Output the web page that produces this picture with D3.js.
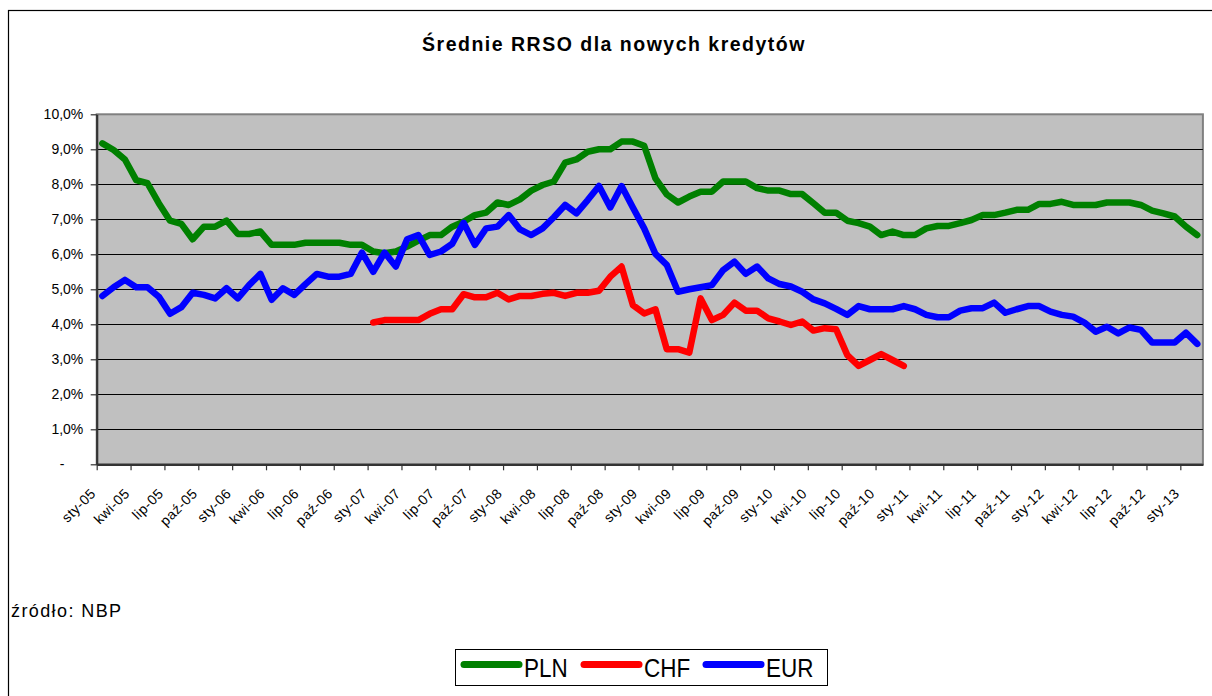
<!DOCTYPE html>
<html>
  <head>
    <meta charset="utf-8">
    <title>Średnie RRSO dla nowych kredytów</title>
    <style>
      body {
        margin: 0;
        background: #fff;
        font-family: 'Liberation Sans', Arial, sans-serif;
      }
      svg {
        display: block;
        overflow: hidden;
      }
      svg text {
        fill: #000;
      }
      .title {
        font-size: 19.5px;
        font-weight: bold;
        letter-spacing: 1.5px;
      }
      .tick text {
        font-size: 14px;
      }
      .x-axis .tick text {
        letter-spacing: 0.5px;
      }
      .source {
        font-size: 18px;
        letter-spacing: 1.4px;
      }
      .legend text {
        font-size: 22.5px;
      }
    </style>
  </head>
  <body>
    <svg width="1212" height="696"></svg>
    <script src="https://d3js.org/d3.v7.min.js"></script>
    <script>
      // months Jan 2005 .. Feb 2013
      const monthNames = ['sty', 'lut', 'mar', 'kwi', 'maj', 'cze', 'lip', 'sie', 'wrz', 'paź', 'lis', 'gru'];
      const firstYear = 2005;
      const monthCount = 98;
      const tickEvery = 3;

      const plnValues = [
        9.17, 8.98, 8.71, 8.12, 8.03, 7.46, 6.96, 6.87, 6.43, 6.79, 6.79, 6.96,
        6.58, 6.58, 6.65, 6.27, 6.27, 6.27, 6.33, 6.33, 6.33, 6.33, 6.27, 6.27,
        6.08, 6.03, 6.08, 6.22, 6.39, 6.55, 6.55, 6.79, 6.93, 7.12, 7.19, 7.48,
        7.41, 7.57, 7.82, 7.98, 8.08, 8.62, 8.71, 8.93, 9.00, 9.00, 9.22, 9.22,
        9.10, 8.17, 7.71, 7.48, 7.65, 7.79, 7.79, 8.08, 8.08, 8.08, 7.89, 7.82,
        7.82, 7.72, 7.72, 7.46, 7.19, 7.19, 6.96, 6.89, 6.79, 6.55, 6.65, 6.55,
        6.55, 6.74, 6.81, 6.81, 6.89, 6.98, 7.12, 7.12, 7.19, 7.27, 7.27, 7.44,
        7.44, 7.50, 7.41, 7.41, 7.41, 7.48, 7.48, 7.48, 7.41, 7.25, 7.17, 7.08,
        6.79, 6.55
      ];
      const eurValues = [
        4.81, 5.06, 5.27, 5.06, 5.06, 4.79, 4.30, 4.49, 4.90, 4.84, 4.74, 5.03,
        4.74, 5.12, 5.44, 4.70, 5.03, 4.84, 5.15, 5.44, 5.36, 5.36, 5.44, 6.05,
        5.50, 6.05, 5.65, 6.43, 6.55, 5.98, 6.08, 6.30, 6.90, 6.27, 6.74, 6.79,
        7.12, 6.71, 6.55, 6.74, 7.06, 7.41, 7.17, 7.55, 7.95, 7.34, 7.95, 7.34,
        6.74, 6.01, 5.70, 4.93, 5.00, 5.06, 5.12, 5.55, 5.79, 5.44, 5.65, 5.31,
        5.15, 5.08, 4.93, 4.71, 4.60, 4.44, 4.27, 4.52, 4.43, 4.43, 4.43, 4.52,
        4.43, 4.27, 4.20, 4.20, 4.39, 4.46, 4.46, 4.62, 4.33, 4.43, 4.52, 4.52,
        4.36, 4.27, 4.22, 4.05, 3.79, 3.93, 3.74, 3.91, 3.84, 3.48, 3.48, 3.48,
        3.76, 3.44
      ];
      // CHF only from Jan 2007 (index 24) to Dec 2010
      const chfStart = 24;
      const chfValues = [
        4.05, 4.12, 4.12, 4.12, 4.12, 4.30, 4.43, 4.43, 4.86, 4.77, 4.77, 4.90,
        4.71, 4.81, 4.81, 4.87, 4.90, 4.81, 4.90, 4.90, 4.96, 5.36, 5.65, 4.55,
        4.31, 4.43, 3.29, 3.29, 3.19, 4.74, 4.12, 4.27, 4.62, 4.39, 4.39, 4.17,
        4.08, 3.98, 4.08, 3.82, 3.89, 3.86, 3.12, 2.81, 2.98, 3.15, 2.98, 2.81
      ];

      const yTicks = [0, 1, 2, 3, 4, 5, 6, 7, 8, 9, 10];
      const seriesNames = ['PLN', 'CHF', 'EUR'];
      const seriesColors = ['#008000', '#ff0000', '#0000ff'];

      const months = d3.range(monthCount).map(i =>
        monthNames[i % 12] + '-' + String((firstYear + Math.floor(i / 12)) % 100).padStart(2, '0'));

      const chfFull = d3.range(monthCount).map(i => {
        const v = chfValues[i - chfStart];
        return v === undefined ? null : v;
      });
      const series = [plnValues, chfFull, eurValues];

      const svg = d3.select('svg');

      const plot = {left: 96.7, right: 1202.9, top: 114.3, bottom: 464.3};

      // category edges: point i sits in the middle of [i, i+1]
      const x = d3.scaleLinear().domain([0, monthCount]).range([plot.left, plot.right]);
      const y = d3.scaleLinear().domain([0, 10]).range([plot.bottom, plot.top]);

      const pl = d3.formatLocale({decimal: ',', thousands: ' ', grouping: [3], currency: ['', ' zł']});
      const pct = pl.format('.1f');

      // outer frame (right and bottom edges fall outside the picture)
      svg.append('rect')
        .attr('x', 8.5).attr('y', 10.5)
        .attr('width', 1230).attr('height', 720)
        .attr('fill', 'none')
        .attr('stroke', '#000')
        .attr('stroke-width', 1.2);

      svg.append('text')
        .attr('class', 'title')
        .attr('x', 614).attr('y', 51)
        .attr('text-anchor', 'middle')
        .text('Średnie RRSO dla nowych kredytów');

      // plot area
      svg.append('rect')
        .attr('x', plot.left).attr('y', plot.top)
        .attr('width', plot.right - plot.left)
        .attr('height', plot.bottom - plot.top)
        .attr('fill', '#c0c0c0')
        .attr('stroke', '#808080')
        .attr('stroke-width', 2);

      svg.append('g')
        .selectAll('line')
        .data(yTicks.filter(d => d > 0 && d < 10))
        .join('line')
          .attr('x1', plot.left).attr('x2', plot.right)
          .attr('y1', d => Math.round(y(d)) + 0.5)
          .attr('y2', d => Math.round(y(d)) + 0.5)
          .attr('stroke', '#000')
          .attr('stroke-width', 1);

      // y axis
      const yAxis = svg.append('g')
        .attr('class', 'y-axis')
        .attr('transform', `translate(${plot.left},0)`)
        .call(d3.axisLeft(y)
          .tickValues(yTicks)
          .tickSize(6)
          .tickSizeOuter(0)
          .tickPadding(7.4)
          .tickFormat(d => d === 0 ? '-' : pct(d) + '%'));
      yAxis.attr('font-family', null).attr('font-size', null);
      yAxis.select('.domain').attr('stroke', '#333').attr('stroke-width', 2.2);
      yAxis.selectAll('.tick line').attr('stroke', '#333').attr('stroke-width', 1.2);
      yAxis.selectAll('.tick text')
        .filter(d => d === 0)
          .attr('x', 62 - plot.left)
          .attr('text-anchor', 'middle');

      // x axis
      const xAxis = svg.append('g')
        .attr('class', 'x-axis')
        .attr('transform', `translate(0,${plot.bottom})`)
        .call(d3.axisBottom(x)
          .tickValues(d3.range(0, monthCount, tickEvery))
          .tickSize(6)
          .tickSizeOuter(0)
          .tickFormat(i => months[i]));
      xAxis.attr('font-family', null).attr('font-size', null);
      xAxis.select('.domain').attr('stroke', '#333').attr('stroke-width', 2.2);
      xAxis.selectAll('.tick line').attr('stroke', '#333').attr('stroke-width', 1.2);
      xAxis.selectAll('.tick text')
        .attr('x', null).attr('y', null)
        .attr('dy', '0.35em')
        .attr('text-anchor', 'end')
        .attr('transform', 'translate(-4,26.5) rotate(-45)');

      // series lines
      const line = d3.line()
        .defined(d => d != null)
        .x((d, i) => x(i + 0.5))
        .y(d => y(d));

      svg.append('g')
        .selectAll('path')
        .data(series)
        .join('path')
          .attr('d', line)
          .attr('fill', 'none')
          .attr('stroke', (d, i) => seriesColors[i])
          .attr('stroke-width', 6.5)
          .attr('stroke-linejoin', 'round')
          .attr('stroke-linecap', 'round');

      svg.append('text')
        .attr('class', 'source')
        .attr('x', 11).attr('y', 617)
        .text('źródło: NBP');

      // legend
      const legend = svg.append('g').attr('class', 'legend');
      legend.append('rect')
        .attr('x', 455.5).attr('y', 649.5)
        .attr('width', 372).attr('height', 36)
        .attr('fill', '#fff')
        .attr('stroke', '#000')
        .attr('stroke-width', 1);

      const legendX = [464, 584, 706];
      const legendLine = 55;
      const item = legend.selectAll('g.item')
        .data(seriesNames)
        .join('g')
          .attr('class', 'item')
          .attr('transform', (d, i) => `translate(${legendX[i]},664.5)`);
      item.append('line')
        .attr('x1', 0).attr('x2', legendLine)
        .attr('stroke', (d, i) => seriesColors[i])
        .attr('stroke-width', 7)
        .attr('stroke-linecap', 'round');
      item.append('g')
        .attr('transform', `translate(${legendLine + 5},12.2) scale(1,1.18)`)
        .append('text')
          .text(d => d);
    </script>
  </body>
</html>
